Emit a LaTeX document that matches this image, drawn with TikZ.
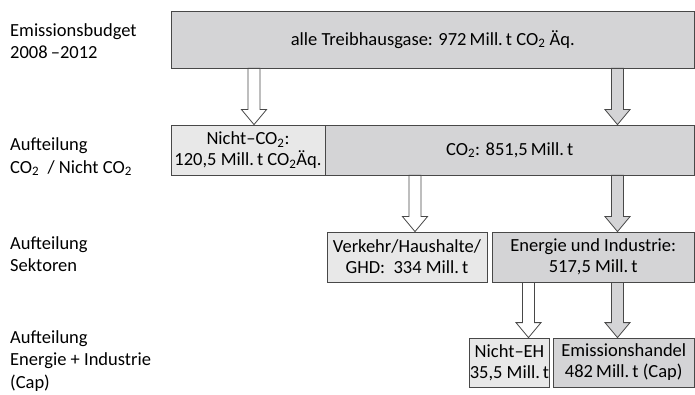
\documentclass[tikz,border=0pt]{standalone}
\usepackage{fontspec}
\setmainfont{Carlito}
\usetikzlibrary{calc}
\definecolor{boxgrey}{RGB}{212,212,214}
\definecolor{lightgrey}{RGB}{232,232,232}
\definecolor{linegrey}{RGB}{72,72,72}
\newcommand{\COz}{CO\textsubscript{2}}
\tikzset{
  box/.style={draw=linegrey, line width=0.8pt, fill=boxgrey, align=center, inner sep=0pt, font=\fontsize{18.5}{21}\selectfont},
  lightbox/.style={box, fill=lightgrey},
  lab/.style={anchor=west, align=left, inner sep=0pt, font=\fontsize{18.5}{22.5}\selectfont},
  arr/.style={draw=linegrey, line width=0.8pt}
}
% block arrow: fill, x, from node, to node
\newcommand{\bigarrow}[4]{%
  \draw[arr, fill=#1] let \p1=(#3.south), \p2=(#4.north) in
    (#2pt-6pt,\y1) -- (#2pt-6pt,\y2+15pt) -- (#2pt-12.5pt,\y2+15pt) -- (#2pt,\y2)
    -- (#2pt+12.5pt,\y2+15pt) -- (#2pt+6pt,\y2+15pt) -- (#2pt+6pt,\y1) -- cycle;
}
\begin{document}
\begin{tikzpicture}[x=1pt,y=-1pt]
 \useasboundingbox (0,0) rectangle (695,395);

 % left column
 \node[lab] (lbudget) at (10,41) {Emissionsbudget\\2008\,\textendash2012};
 \node[lab] (lgas) at (10,157) {Aufteilung\\\COz\ \ / Nicht \COz};
 \node[lab] (lsektor) at (10,254) {Aufteilung\\Sektoren};
 \node[lab] (lcap) at (10,361) {Aufteilung\\Energie + Industrie\\(Cap)};

 % boxes
 \node[box, minimum width=523.5pt, minimum height=57pt] (all) at (432.75,39.5)
   {alle Treibhausgase: 972\,Mill.\,t \COz\ Äq.};
 \node[lightbox, minimum width=154pt, minimum height=50pt] (nonco) at (248,150)
   {Nicht\textendash\COz:\\120,5 Mill.\,t \COz Äq.};
 \node[box, minimum width=369.5pt, minimum height=50pt] (co) at (509.75,150)
   {\COz: 851,5\,Mill.\,t};
 \node[lightbox, minimum width=160pt, minimum height=50pt] (verkehr) at (407,257)
   {Verkehr/Haushalte/\\GHD:\ \ 334 Mill.\,t};
 \node[box, minimum width=202.5pt, minimum height=50pt] (energie) at (593.25,257)
   {Energie und Industrie:\\517,5 Mill.\,t};
 \node[lightbox, minimum width=77pt, minimum height=49pt] (nichteh) at (509.5,362.5)
   {Nicht\textendash EH\\35,5 Mill.\,t};
 \node[box, minimum width=141.5pt, minimum height=49pt] (handel) at (623.75,362.5)
   {Emissionshandel\\482\,Mill.\,t (Cap)};

 % arrows
 \bigarrow{white}{254}{all}{nonco}
 \bigarrow{boxgrey}{617.5}{all}{co}
 \bigarrow{white}{415}{co}{verkehr}
 \bigarrow{boxgrey}{617.5}{co}{energie}
 \bigarrow{white}{528.5}{energie}{nichteh}
 \bigarrow{boxgrey}{617.5}{energie}{handel}
\end{tikzpicture}
\end{document}
